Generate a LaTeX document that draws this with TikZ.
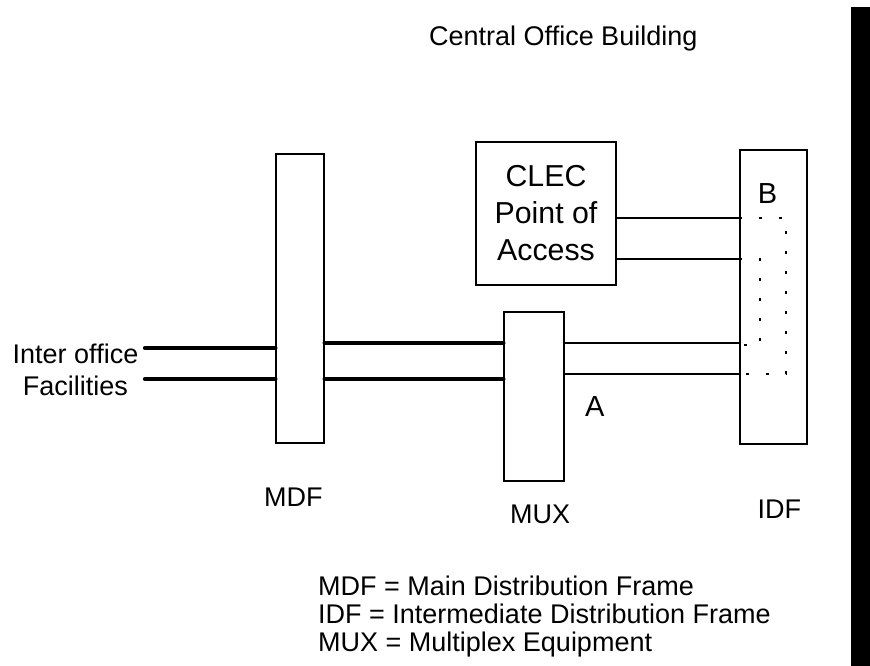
\documentclass[tikz,border=0pt]{standalone}
\usepackage{fontspec}
\setmainfont{Liberation Sans}
\begin{document}
\begin{tikzpicture}[x=1pt,y=-1pt,
  frame/.style={draw=black,line width=1.2pt,fill=white,inner sep=0pt},
  lbl/.style={inner sep=0pt,anchor=base west,font=\fontsize{27}{32}\selectfont},
  biglbl/.style={inner sep=0pt,anchor=base west,font=\fontsize{29}{35}\selectfont},
  thickwire/.style={line width=4.2pt,line cap=round},
  thinwire/.style={line width=1.2pt},
  jumper/.style={line width=1.1pt,dash pattern=on 3pt off 17pt}]
\useasboundingbox (0,0) rectangle (870,666);
\fill[black] (851,7) rectangle (870,666);
% frames
\node[frame,minimum width=48pt,minimum height=289pt] (mdf) at (300,298.5) {};
\node[frame,minimum width=60pt,minimum height=169pt] (mux) at (534,396.5) {};
\node[frame,minimum width=67pt,minimum height=294pt] (idf) at (773.5,297) {};
\node[frame,minimum width=140pt,minimum height=143pt,align=center,
  font=\fontsize{30.3}{37}\selectfont] (clec) at (546,213.5) {CLEC\\Point of\\Access};
% free ends of the inter office facilities
\coordinate (f1) at (145,348);
\coordinate (f2) at (145,379);
% thick wires
\draw[thickwire] (f1) -- (f1 -| mdf.west);
\draw[thickwire] (f2) -- (f2 -| mdf.west);
\draw[thickwire] (mdf.east |- 0,343) -- (mux.west |- 0,343);
\draw[thickwire] (mdf.east |- 0,379) -- (mux.west |- 0,379);
% thin wires
\draw[thinwire] (clec.east |- 0,218) -- (idf.west |- 0,218);
\draw[thinwire] (clec.east |- 0,259) -- (idf.west |- 0,259);
\draw[thinwire] (mux.east |- 0,343) -- (idf.west |- 0,343);
\draw[thinwire] (mux.east |- 0,374) -- (idf.west |- 0,374);
% cross-connect jumpers inside IDF
\draw[jumper] (idf.west |- 0,218) -- (786,218) -- (786,374) -- (idf.west |- 0,374);
\draw[jumper] (idf.west |- 0,259) -- (760,259) -- (760,345) -- (idf.west |- 0,345);
% labels
\node[lbl] (title) at (429,46) {Central Office Building};
\node[lbl,anchor=base] (io1) at (75.5,363) {Inter office};
\node[lbl,anchor=base] (io2) at (75.5,395) {Facilities};
\node[lbl] (mdfl) at (264,506) {MDF};
\node[lbl] (muxl) at (510,523.7) {MUX};
\node[lbl] (idfl) at (757.4,518) {IDF};
\node[biglbl] (pa) at (585,416.7) {A};
\node[biglbl] (pb) at (757.7,203.3) {B};
\node[lbl] (leg1) at (318,595) {MDF = Main Distribution Frame};
\node[lbl] (leg2) at (318,623.3) {IDF = Intermediate Distribution Frame};
\node[lbl] (leg3) at (318,651.7) {MUX = Multiplex Equipment};
\end{tikzpicture}
\end{document}
